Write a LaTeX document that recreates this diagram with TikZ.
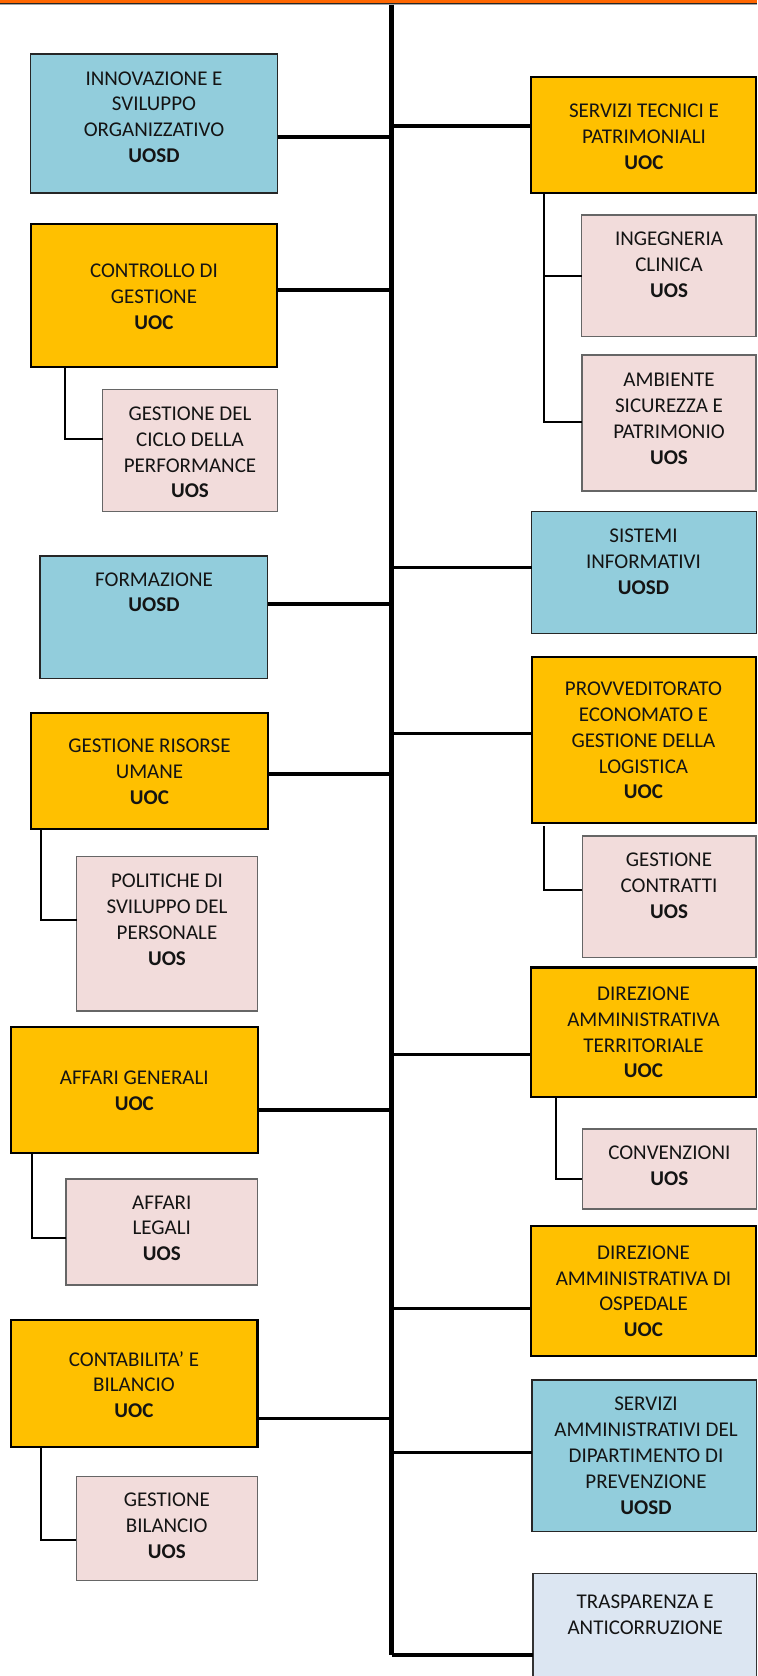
\documentclass[tikz,border=0pt]{standalone}
\usepackage{fontspec}
\setmainfont{Carlito}
\usetikzlibrary{fit}
\definecolor{uocfill}{HTML}{FFC000}
\definecolor{uosdfill}{HTML}{92CDDC}
\definecolor{uosfill}{HTML}{F2DCDB}
\definecolor{trfill}{HTML}{DCE6F2}
\definecolor{band}{HTML}{FF6600}
\definecolor{ink}{HTML}{141414}

\begin{document}
\begin{tikzpicture}[x=0.75pt,y=-0.75pt,
  orgbox/.style={inner sep=0pt, outer sep=0pt, rectangle},
  uoc/.style={orgbox, fill=uocfill, draw=black, line width=1.6pt},
  uosd/.style={orgbox, fill=uosdfill, draw=black!85, line width=1.1pt},
  uos/.style={orgbox, fill=uosfill, draw=black!60, line width=1.1pt},
  tras/.style={orgbox, fill=trfill, draw=black!80, line width=1.1pt},
  txt/.style={inner sep=0pt, align=center, text=ink, font=\fontsize{15.75}{19.35}\selectfont},
  trunk/.style={line width=3.5pt},
  conn/.style={line width=2.3pt},
  sub/.style={line width=1.5pt},
]
\useasboundingbox (0,0) rectangle (757,1676);
\clip (0,0) rectangle (757,1676);

% header band
\fill[band] (0,0) rectangle (757,3.4);
\draw[black!85, line width=0.8pt] (0,3.9) -- (757,3.9);
\draw[black!35, line width=0.5pt] (0,4.8) -- (757,4.8);

% ---------- boxes, left column ----------
\node[uosd, fit={(30.5,54)(277.6,193)}] (inn) {};
\node[txt] (innT) at (154,117) {INNOVAZIONE E\\SVILUPPO\\ORGANIZZATIVO\\\textbf{UOSD}};

\node[uoc, fit={(30.7,224.3)(277,366.7)}] (cdg) {};
\node[txt] (cdgT) at (154,296.7) {CONTROLLO DI\\GESTIONE\\\textbf{UOC}};

\node[uos, fit={(102.7,389.3)(277.3,511.7)}] (gdc) {};
\node[txt] (gdcT) at (190,452.5) {GESTIONE DEL\\CICLO DELLA\\PERFORMANCE\\\textbf{UOS}};

\node[uosd, fit={(40,556)(267.7,678.3)}] (frm) {};
\node[txt] (frmT) at (154,592.2) {FORMAZIONE\\\textbf{UOSD}};

\node[uoc, fit={(30.7,712.7)(268.3,829)}] (gru) {};
\node[txt] (gruT) at (149.5,771.5) {GESTIONE RISORSE\\UMANE\\\textbf{UOC}};

\node[uos, fit={(76.7,856.7)(257.7,1011)}] (pol) {};
\node[txt] (polT) at (167,919.7) {POLITICHE DI\\SVILUPPO DEL\\PERSONALE\\\textbf{UOS}};

\node[uoc, fit={(11,1026.7)(257.7,1153.3)}] (aff) {};
\node[txt] (affT) at (134.3,1090.5) {AFFARI GENERALI\\\textbf{UOC}};

\node[uos, fit={(66,1179)(257.7,1285)}] (al) {};
\node[txt] (alT) at (161.8,1228.3) {AFFARI\\LEGALI\\\textbf{UOS}};

\node[uoc, fit={(11,1320)(257.5,1446.7)}] (cnt) {};
\node[txt] (cntT) at (134,1384.5) {CONTABILITA’ E\\BILANCIO\\\textbf{UOC}};

\node[uos, fit={(76.3,1476.7)(257.3,1580.7)}] (gb) {};
\node[txt] (gbT) at (166.8,1526) {GESTIONE\\BILANCIO\\\textbf{UOS}};

% ---------- boxes, right column ----------
\node[uoc, fit={(531,77)(756,193)}] (stp) {};
\node[txt] (stpT) at (644,136.7) {SERVIZI TECNICI E\\PATRIMONIALI\\\textbf{UOC}};

\node[uos, fit={(581.7,215)(756,336.7)}] (ing) {};
\node[txt] (ingT) at (669,265) {INGEGNERIA\\CLINICA\\\textbf{UOS}};

\node[uos, fit={(582,355)(756,491)}] (amb) {};
\node[txt] (ambT) at (669,418.7) {AMBIENTE\\SICUREZZA E\\PATRIMONIO\\\textbf{UOS}};

\node[uosd, fit={(531.7,511.7)(756.3,633.3)}] (sis) {};
\node[txt] (sisT) at (643.5,561.7) {SISTEMI\\INFORMATIVI\\\textbf{UOSD}};

\node[uoc, fit={(531.7,656.7)(756.3,822.7)}] (prv) {};
\node[txt] (prvT) at (643.5,740.5) {PROVVEDITORATO\\ECONOMATO E\\GESTIONE DELLA\\LOGISTICA\\\textbf{UOC}};

\node[uos, fit={(582.3,836)(756,957.7)}] (gc) {};
\node[txt] (gcT) at (669,885.5) {GESTIONE\\CONTRATTI\\\textbf{UOS}};

\node[uoc, fit={(531,967.5)(756.3,1097.3)}] (dat) {};
\node[txt] (datT) at (643.5,1032.5) {DIREZIONE\\AMMINISTRATIVA\\TERRITORIALE\\\textbf{UOC}};

\node[uos, fit={(582.3,1129)(756.3,1209)}] (cnv) {};
\node[txt] (cnvT) at (669.3,1165.8) {CONVENZIONI\\\textbf{UOS}};

\node[uoc, fit={(531,1225.7)(756.3,1355.7)}] (dao) {};
\node[txt] (daoT) at (643.5,1291.2) {DIREZIONE\\AMMINISTRATIVA DI\\OSPEDALE\\\textbf{UOC}};

\node[uosd, fit={(532,1380)(756.5,1531.7)}] (sam) {};
\node[txt] (samT) at (646,1455.8) {SERVIZI\\AMMINISTRATIVI DEL\\DIPARTIMENTO DI\\PREVENZIONE\\\textbf{UOSD}};

\node[tras, fit={(533,1573.3)(756.5,1700)}] (tra) {};
\node[txt] (traT) at (645.2,1614.8) {TRASPARENZA E\\ANTICORRUZIONE};

% ---------- trunk ----------
\coordinate (ttop) at (391.8,5);
\coordinate (tbot) at (391.8,1655);
\draw[trunk] (ttop) -- (tbot);
\draw[line width=3.2pt] (tbot) -- (tbot -| tra.west);

% ---------- branches to the left ----------
\coordinate (l1) at (391.8,137);
\coordinate (l2) at (391.8,290);
\coordinate (l3) at (391.8,604);
\coordinate (l4) at (391.8,774);
\coordinate (l5) at (391.8,1110);
\coordinate (l6) at (391.8,1418.3);
\draw[conn] (inn.east |- l1) -- (l1);
\draw[conn] (cdg.east |- l2) -- (l2);
\draw[conn] (frm.east |- l3) -- (l3);
\draw[conn] (gru.east |- l4) -- (l4);
\draw[conn] (aff.east |- l5) -- (l5);
\draw[conn] (cnt.east |- l6) -- (l6);

% ---------- branches to the right ----------
\coordinate (r1) at (391.8,126);
\coordinate (r2) at (391.8,567.8);
\coordinate (r3) at (391.8,733.3);
\coordinate (r4) at (391.8,1054.2);
\coordinate (r5) at (391.8,1308.3);
\coordinate (r6) at (391.8,1452.3);
\draw[conn] (r1) -- (r1 -| stp.west);
\draw[conn] (r2) -- (r2 -| sis.west);
\draw[conn] (r3) -- (r3 -| prv.west);
\draw[conn] (r4) -- (r4 -| dat.west);
\draw[conn] (r5) -- (r5 -| dao.west);
\draw[conn] (r6) -- (r6 -| sam.west);

% ---------- sub-unit links ----------
\coordinate (s1) at (544.3,275.7);
\coordinate (s2) at (544.3,421.7);
\draw[sub] (s1 |- stp.south) -- (s2) -- (s2 -| amb.west);
\draw[sub] (s1) -- (s1 -| ing.west);

\coordinate (s3) at (65,439);
\draw[sub] (s3 |- cdg.south) |- (s3 -| gdc.west);

\coordinate (s4) at (41.3,920);
\draw[sub] (s4 |- gru.south) |- (s4 -| pol.west);

\coordinate (s5) at (31.7,1237.7);
\draw[sub] (s5 |- aff.south) |- (s5 -| al.west);

\coordinate (s6) at (41,1540);
\draw[sub] (s6 |- cnt.south) |- (s6 -| gb.west);

\coordinate (s7) at (544.3,890);
\draw[sub] (544.3,826) |- (s7 -| gc.west);

\coordinate (s8) at (555.7,1179);
\draw[sub] (s8 |- dat.south) |- (s8 -| cnv.west);
\end{tikzpicture}
\end{document}
